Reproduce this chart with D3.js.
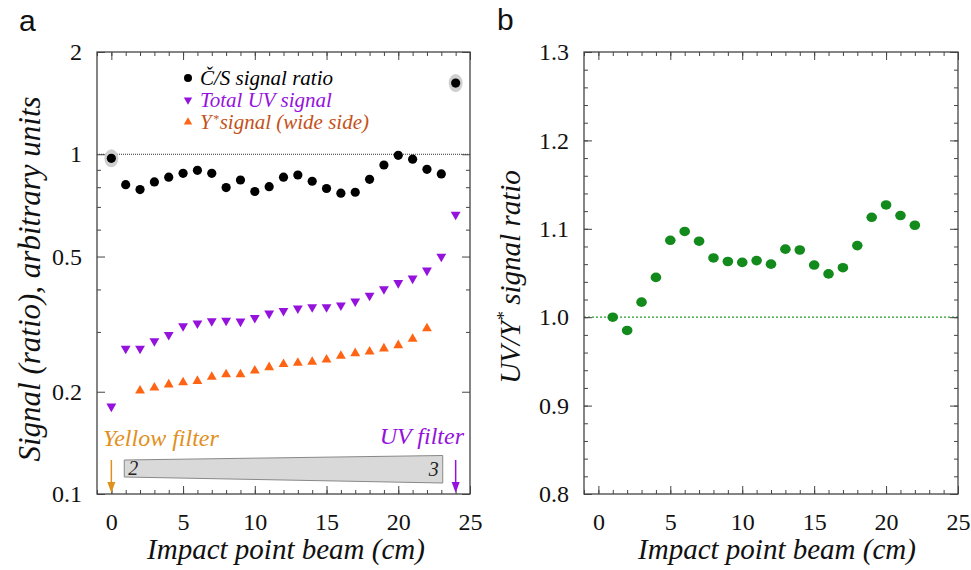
<!DOCTYPE html>
<html>
<head>
<meta charset="utf-8">
<script src="https://cdn.jsdelivr.net/npm/d3@7"></script>
<style>
  body { margin: 0; background: #fff; }
</style>
</head>
<body>
<svg width="971" height="570"></svg>
<script>
// ---- data ----
const csX = [0,1,2,3,4,5,6,7,8,9,10,11,12,13,14,15,16,17,18,19,20,21,22,23,24];
const csVal = [0.973,0.814,0.787,0.829,0.856,0.879,0.897,0.879,0.798,0.840,0.777,0.803,0.856,
               0.869,0.833,0.793,0.768,0.773,0.844,0.930,0.993,0.967,0.903,0.875,1.62];
const uvX = [0,1,2,3,4,5,6,7,8,9,10,11,12,13,14,15,16,17,18,19,20,21,22,23,24];
const uvVal = [0.181,0.268,0.268,0.282,0.294,0.312,0.318,0.323,0.324,0.322,0.330,0.340,0.346,
               0.352,0.355,0.355,0.359,0.369,0.384,0.401,0.418,0.431,0.455,0.500,0.664];
const ysX = [2,3,4,5,6,7,8,9,10,11,12,13,14,15,16,17,18,19,20,21,22];
const ysVal = [0.2015,0.2056,0.210,0.213,0.215,0.221,0.225,0.225,0.2307,0.236,0.241,0.243,
               0.2446,0.2486,0.2548,0.2595,0.2625,0.268,0.274,0.286,0.307];
const haloX = [0, 24];          // points marked with a grey halo
const ratioX = [1,2,3,4,5,6,7,8,9,10,11,12,13,14,15,16,17,18,19,20,21,22];
const ratioVal = [1.000,0.985,1.017,1.045,1.087,1.097,1.086,1.067,1.063,1.062,1.064,1.060,
                  1.077,1.076,1.059,1.049,1.056,1.081,1.113,1.127,1.115,1.104];

const xTicks = [0,5,10,15,20,25];
const xMinor = d3.range(-1, 26);
const logTicks = [0.1,0.2,0.5,1,2];
const logMinor = [0.3,0.4,0.6,0.7,0.8,0.9];
const linTicks = [0.8,0.9,1.0,1.1,1.2,1.3];
const linMinor = d3.range(0.8, 1.3001, 0.02);

const SERIF = '"Liberation Serif", "Times New Roman", serif';
const SANS = '"Liberation Sans", Arial, sans-serif';
const PURPLE = '#9412dc', ORANGE = '#ff6414', GOLD = '#e0901c', GREEN = '#138a1c';

const svg = d3.select('svg');
const plotTop = 52, plotBottom = 494;

// ---- panel a ----
const xa = d3.scaleLinear().domain([-1, 25]).range([97, 470]);
const ya = d3.scaleLog().domain([0.1, 2]).range([plotBottom, plotTop]);
// ---- panel b ----
const xb = d3.scaleLinear().domain([-1, 25]).range([584, 958]);
const yb = d3.scaleLinear().domain([0.8, 1.3]).range([plotBottom, plotTop]);

function txt(x, y, size, str, opts = {}) {
  return svg.append('text').attr('x', x).attr('y', y).attr('font-size', size)
    .style('font-family', opts.family || SERIF)
    .attr('font-style', opts.italic === false ? null : 'italic')
    .attr('fill', opts.color || '#111')
    .attr('text-anchor', opts.anchor || 'start')
    .text(str);
}

function frame(x, y, yMajor, yMinor, yFmt) {
  const x0 = x.range()[0], x1 = x.range()[1];
  const g = svg.append('g');
  const add = (axis, tr) => {
    const a = g.append('g').attr('transform', tr).call(axis);
    a.select('.domain').remove();
    a.selectAll('line').attr('stroke', '#444');
    a.selectAll('text').attr('font-size', 24).attr('fill', '#111').style('font-family', SERIF);
    return a;
  };
  add(d3.axisBottom(x).tickValues(xTicks).tickSize(-8).tickPadding(19).tickFormat(d3.format('d')), `translate(0,${plotBottom})`);
  add(d3.axisBottom(x).tickValues(xMinor).tickSize(-4).tickFormat(''), `translate(0,${plotBottom})`);
  add(d3.axisTop(x).tickValues(xTicks).tickSize(-8).tickFormat(''), `translate(0,${plotTop})`);
  add(d3.axisTop(x).tickValues(xMinor).tickSize(-4).tickFormat(''), `translate(0,${plotTop})`);
  add(d3.axisLeft(y).tickValues(yMajor).tickSize(-8).tickPadding(15).tickFormat(yFmt), `translate(${x0},0)`);
  add(d3.axisLeft(y).tickValues(yMinor).tickSize(-4).tickFormat(''), `translate(${x0},0)`);
  add(d3.axisRight(y).tickValues(yMajor).tickSize(-8).tickFormat(''), `translate(${x1},0)`);
  add(d3.axisRight(y).tickValues(yMinor).tickSize(-4).tickFormat(''), `translate(${x1},0)`);
  g.append('rect').attr('x', x0).attr('y', plotTop).attr('width', x1 - x0).attr('height', plotBottom - plotTop)
    .attr('fill', 'none').attr('stroke', '#444').attr('stroke-width', 1.3);
}

// reference lines
svg.append('line').attr('x1', xa(-1)).attr('x2', xa(25)).attr('y1', ya(1)).attr('y2', ya(1))
  .attr('stroke', '#333').attr('stroke-width', 1).attr('stroke-dasharray', '1,1');
svg.append('line').attr('x1', xb(-1)).attr('x2', xb(25)).attr('y1', yb(1)).attr('y2', yb(1))
  .attr('stroke', '#2a9a2a').attr('stroke-width', 1.2).attr('stroke-dasharray', '2,2');

frame(xa, ya, logTicks, logMinor, d => String(d));
frame(xb, yb, linTicks, linMinor, d3.format('.1f'));

// ---- panel a marks ----
const csPts = csX.map((x, i) => ({x, v: csVal[i]}));
svg.append('g').selectAll('ellipse').data(csPts.filter(d => haloX.includes(d.x))).join('ellipse')
  .attr('cx', d => xa(d.x)).attr('cy', d => ya(d.v)).attr('rx', 7).attr('ry', 9).attr('fill', '#cfcfcf');

const tri = d3.symbol(d3.symbolTriangle, 42);
svg.append('g').selectAll('path').data(uvX.map((x, i) => ({x, v: uvVal[i]}))).join('path')
  .attr('d', tri).attr('fill', PURPLE)
  .attr('transform', d => `translate(${xa(d.x)},${ya(d.v)}) rotate(180)`);
svg.append('g').selectAll('path').data(ysX.map((x, i) => ({x, v: ysVal[i]}))).join('path')
  .attr('d', tri).attr('fill', ORANGE)
  .attr('transform', d => `translate(${xa(d.x)},${ya(d.v)})`);
svg.append('g').selectAll('circle').data(csPts).join('circle')
  .attr('cx', d => xa(d.x)).attr('cy', d => ya(d.v)).attr('r', 4.6).attr('fill', '#000');

// legend
const lgX = 188, lgY = 78, lgStep = 22;
svg.append('circle').attr('cx', lgX).attr('cy', lgY).attr('r', 4).attr('fill', '#000');
svg.append('path').attr('d', d3.symbol(d3.symbolTriangle, 30)).attr('fill', PURPLE)
  .attr('transform', `translate(${lgX},${lgY + lgStep}) rotate(180)`);
svg.append('path').attr('d', d3.symbol(d3.symbolTriangle, 30)).attr('fill', ORANGE)
  .attr('transform', `translate(${lgX},${lgY + 2 * lgStep})`);
txt(lgX + 12, lgY + 7, 21, 'Č/S signal ratio', {color: '#000'});
txt(lgX + 12, lgY + lgStep + 7, 21, 'Total UV signal', {color: PURPLE});
// "Y*signal (wide side)" as three pieces placed side by side
const yBase = lgY + 2 * lgStep + 7;
const yY = txt(lgX + 12, yBase, 21, 'Y', {color: '#c4521a'});
const yYw = yY.node().getComputedTextLength();
const yStar = txt(lgX + 12 + yYw + 1, yBase - 6, 12, '*', {color: '#c4521a'});
const yStarW = yStar.node().getComputedTextLength();
txt(lgX + 12 + yYw + yStarW + 2, yBase, 21, 'signal (wide side)', {color: '#c4521a'});

// filter annotations
txt(103, 446, 24, 'Yellow filter', {color: GOLD});
txt(464, 444, 24, 'UV filter', {color: PURPLE, anchor: 'end'});
function arrow(x, color) {
  svg.append('line').attr('x1', x).attr('x2', x).attr('y1', 460).attr('y2', 486)
    .attr('stroke', color).attr('stroke-width', 1.5);
  svg.append('path').attr('d', `M${x - 4},482 L${x},493 L${x + 4},482 Z`).attr('fill', color);
}
arrow(xa(0), GOLD);
arrow(xa(24), PURPLE);
const t0 = xa(0.9), t1 = xa(23.1);
svg.append('path').attr('d', `M${t0},460 L${t1},455.5 L${t1},483 L${t0},477 Z`)
  .attr('fill', '#d9d9d9').attr('stroke', '#888').attr('stroke-width', 1);
txt(t0 + 4, 475, 20, '2', {color: '#222'});
txt(t1 - 4, 476, 20, '3', {color: '#222', anchor: 'end'});

// ---- panel b marks ----
svg.append('g').selectAll('ellipse').data(ratioX.map((x, i) => ({x, v: ratioVal[i]}))).join('ellipse')
  .attr('cx', d => xb(d.x)).attr('cy', d => yb(d.v)).attr('rx', 5.3).attr('ry', 4.8).attr('fill', GREEN);

// ---- titles ----
txt(19, 31, 30, 'a', {family: SANS, italic: false});
txt(497, 30, 30, 'b', {family: SANS, italic: false});

txt(286, 559, 29, 'Impact point beam (cm)', {anchor: 'middle'});
txt(777, 559, 29, 'Impact point beam (cm)', {anchor: 'middle'});

txt(0, 0, 31, 'Signal (ratio), arbitrary units', {anchor: 'middle'})
  .attr('transform', 'translate(40,279) rotate(-90)');
const yl = txt(0, 0, 29, '', {anchor: 'middle'}).attr('transform', 'translate(520,277) rotate(-90)');
yl.append('tspan').text('UV/Y');
yl.append('tspan').text('*').attr('dy', -10).attr('font-size', 18);
yl.append('tspan').text(' signal ratio').attr('dy', 10);
</script>
</body>
</html>
